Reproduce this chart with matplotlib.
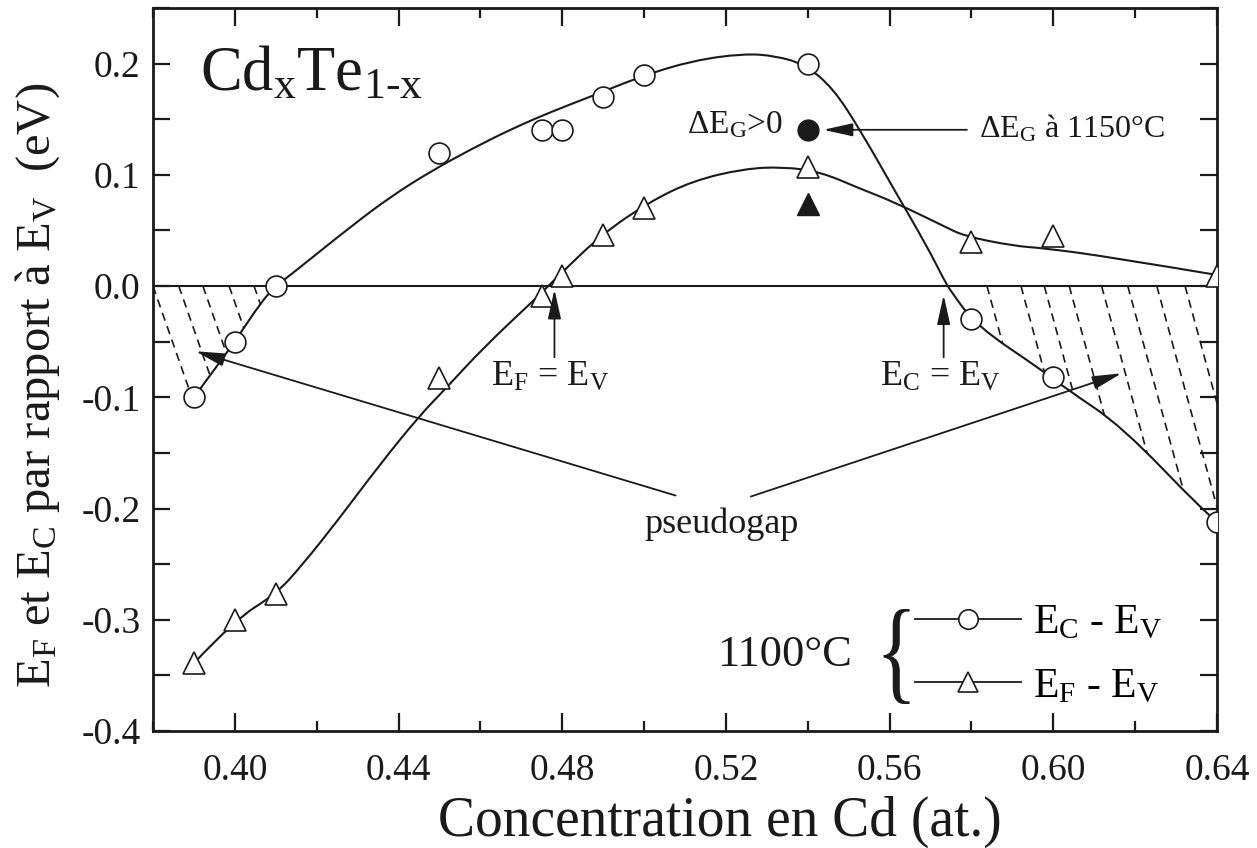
import numpy as np
import matplotlib
matplotlib.use('Agg')
import matplotlib.pyplot as plt
from matplotlib.ticker import MultipleLocator, FormatStrFormatter
from matplotlib.lines import Line2D
from matplotlib.patches import Polygon, PathPatch
from matplotlib.path import Path
from matplotlib.textpath import TextPath
from matplotlib.font_manager import FontProperties
from matplotlib.transforms import Affine2D, ScaledTranslation

plt.rcParams['font.family'] = ['Liberation Serif', 'DejaVu Serif']
plt.rcParams['mathtext.fontset'] = 'custom'
plt.rcParams['mathtext.rm'] = 'Liberation Serif'
plt.rcParams['mathtext.it'] = 'Liberation Serif:italic'
plt.rcParams['mathtext.bf'] = 'Liberation Serif:bold'
plt.rcParams['axes.unicode_minus'] = False

# measured points, 1100 C
conc = [0.39, 0.40, 0.41, 0.45, 0.475, 0.48, 0.49, 0.50, 0.54, 0.58, 0.60, 0.64]
ec_ev = [-0.100, -0.050, 0.000, 0.120, 0.140, 0.140, 0.170, 0.190, 0.200, -0.030, -0.082, -0.212]
ef_ev = [-0.339, -0.300, -0.277, -0.083, -0.009, 0.009, 0.046, 0.070, 0.107, 0.040, 0.045, 0.009]

# 1150 C point
conc_1150 = [0.54]
ec_1150 = [0.140]
ef_1150 = [0.074]

# hand drawn fit curves (traced)
fit_ec_x = [0.39, 0.395, 0.40, 0.4064, 0.41, 0.4145, 0.4285, 0.4383, 0.4481, 0.4579,
            0.4677, 0.4775, 0.4874, 0.4996, 0.5119, 0.5242, 0.5322, 0.5394, 0.5463,
            0.553, 0.561, 0.5691, 0.5732, 0.575, 0.5813, 0.597, 0.6034, 0.6167, 0.6363, 0.64]
fit_ec_y = [-0.100, -0.075, -0.050, -0.0144, 0.0, 0.0126, 0.054, 0.081, 0.1036, 0.1234,
            0.1414, 0.157, 0.171, 0.189, 0.2027, 0.209, 0.207, 0.199, 0.1775,
            0.139, 0.0874, 0.036, 0.0063, -0.005, -0.036, -0.075, -0.093, -0.126, -0.2009, -0.212]
fit_ef_x = [0.39, 0.40, 0.41, 0.4162, 0.4253, 0.4351, 0.445, 0.4513, 0.4611, 0.4734,
            0.48, 0.4898, 0.5013, 0.5119, 0.5242, 0.534, 0.5431, 0.5529, 0.561, 0.5732,
            0.5782, 0.5904, 0.598, 0.614, 0.64]
fit_ef_y = [-0.339, -0.300, -0.277, -0.252, -0.210, -0.162, -0.117, -0.093, -0.054, -0.0117,
            0.0126, 0.0468, 0.0757, 0.0946, 0.1054, 0.1072, 0.1027, 0.0874, 0.0757, 0.054,
            0.045, 0.036, 0.034, 0.026, 0.010]

hatch_left = [0.380, 0.3863, 0.3922, 0.3986, 0.4047]
hatch_right = [0.5838, 0.5921, 0.5978, 0.6039, 0.6118, 0.6182, 0.6253, 0.6322]

ink = '#1a1a1a'


def smooth_path(xs, ys):
    # quadratic bezier through the midpoints of the traced polyline
    pts = list(zip(xs, ys))
    verts = [pts[0]]
    codes = [Path.MOVETO]
    for i in range(1, len(pts) - 1):
        mid = ((pts[i][0] + pts[i + 1][0]) / 2, (pts[i][1] + pts[i + 1][1]) / 2)
        if i == len(pts) - 2:
            mid = pts[i + 1]
        verts += [pts[i], mid]
        codes += [Path.CURVE3, Path.CURVE3]
    return Path(verts, codes)


fig = plt.figure(figsize=(12.57, 8.48), dpi=100)
ax = fig.add_axes([153 / 1257, 1 - 731 / 848, 1064 / 1257, 723 / 848])

ax.axhline(0, color=ink, lw=1.5, zorder=1)
for fx, fy in [(fit_ec_x, fit_ec_y), (fit_ef_x, fit_ef_y)]:
    ax.add_patch(PathPatch(smooth_path(fx, fy), fill=False, edgecolor=ink, lw=1.5, zorder=2))

ax.plot(conc, ec_ev, 'o', ms=15, mfc='white', mec=ink, mew=1.2, zorder=3)
ax.plot(conc, ef_ev, '^', ms=16, mfc='white', mec=ink, mew=1.2, zorder=3)
ax.plot(conc_1150, ec_1150, 'o', ms=15, mfc=ink, mec=ink, zorder=3)
ax.plot(conc_1150, ef_1150, '^', ms=16, mfc=ink, mec=ink, zorder=3)

# pseudogap hatching (dashed lines clipped to the region between 0 and E_C)
left_curve = [(x, y) for x, y in zip(fit_ec_x, fit_ec_y) if x <= 0.41]
poly_left = [(0.38, 0.0), (0.41, 0.0)] + left_curve[::-1] + [(0.38, -0.06)]
right_curve = [(x, y) for x, y in zip(fit_ec_x, fit_ec_y) if x >= 0.575]
poly_right = [(0.575, 0.0), (0.64, 0.0), (0.64, -0.212)] + right_curve[::-1]

for starts, polypts, ratio in [(hatch_left, poly_left, 0.095), (hatch_right, poly_right, 0.074)]:
    clip = Polygon(polypts, closed=True, transform=ax.transData, fill=False, edgecolor='none')
    for x0 in starts:
        ln, = ax.plot([x0, x0 + ratio * 0.3], [0.0, -0.3], color=ink, lw=1.2,
                      dashes=(5, 3.5), zorder=1)
        ln.set_clip_path(clip)

arrow = dict(arrowstyle='-|>,head_length=0.9,head_width=0.2', color=ink, lw=1.3,
             shrinkA=0, shrinkB=0, mutation_scale=20)
ax.annotate('', xy=(0.5438, 0.1405), xytext=(0.5789, 0.1405), arrowprops=arrow)
ax.annotate('', xy=(0.4781, -0.003), xytext=(0.4781, -0.064), arrowprops=arrow)
ax.annotate('', xy=(0.5732, -0.008), xytext=(0.5732, -0.064), arrowprops=arrow)
ax.annotate('', xy=(0.3904, -0.0586), xytext=(0.5077, -0.1883), arrowprops=arrow)
ax.annotate('', xy=(0.6167, -0.0784), xytext=(0.5261, -0.1892), arrowprops=arrow)

ax.text(0.3914, 0.1757, r'$\mathrm{Cd_x Te_{1‐x}}$', fontsize=45, va='baseline', color=ink)
ax.text(0.534, 0.137, r'Δ$\mathrm{E_G}$>0', fontsize=24, ha='right', va='baseline', color=ink)
ax.text(0.5818, 0.134, r'Δ$\mathrm{E_G}$ à 1150°C', fontsize=23, va='baseline', color=ink)
ax.text(0.477, -0.09, r'$\mathrm{E_F}$ = $\mathrm{E_V}$', fontsize=26, ha='center',
        va='baseline', color=ink)
ax.text(0.5725, -0.09, r'$\mathrm{E_C}$ = $\mathrm{E_V}$', fontsize=26, ha='center',
        va='baseline', color=ink)
ax.text(0.519, -0.2216, 'pseudogap', fontsize=26, ha='center', va='baseline', color=ink)
ax.text(0.5178, -0.342, '1100°C', fontsize=32, va='baseline', color=ink)

# tall narrow brace
tp = TextPath((0, 0), '{', size=1, prop=FontProperties(family='Liberation Serif'))
bb = tp.get_extents()
tr = (Affine2D().translate(-(bb.x0 + bb.width / 2), -(bb.y0 + bb.height / 2))
      .scale(26 / bb.width, 95 / bb.height)
      + ScaledTranslation(0.5617, -0.333, ax.transData))
ax.add_patch(PathPatch(tp, transform=tr, color=ink, lw=0, clip_on=False))

handles = [Line2D([], [], color=ink, lw=1.3, marker='o', ms=14, mfc='white', mec=ink, mew=1.2),
           Line2D([], [], color=ink, lw=1.3, marker='^', ms=15, mfc='white', mec=ink, mew=1.2)]
labels = [r'$\mathrm{E_C}$ - $\mathrm{E_V}$', r'$\mathrm{E_F}$ - $\mathrm{E_V}$']
ax.legend(handles, labels, loc='center left', bbox_to_anchor=(0.5661, -0.3315),
          bbox_transform=ax.transData, frameon=False, fontsize=30, handlelength=2.55,
          handletextpad=0.3, labelspacing=0.6, borderpad=0, borderaxespad=0)

ax.set_xlim(0.38, 0.64)
ax.set_ylim(-0.4, 0.25)
ax.set_xticks([0.40, 0.44, 0.48, 0.52, 0.56, 0.60, 0.64])
ax.xaxis.set_minor_locator(MultipleLocator(0.02))
ax.xaxis.set_major_formatter(FormatStrFormatter('%.2f'))
ax.set_yticks([-0.4, -0.3, -0.2, -0.1, 0.0, 0.1, 0.2])
ax.yaxis.set_minor_locator(MultipleLocator(0.05))
ax.yaxis.set_major_formatter(FormatStrFormatter('%.1f'))
ax.tick_params(which='both', direction='in', top=True, right=True, width=1.6,
               colors=ink, labelsize=27)
ax.tick_params(axis='x', which='major', length=13, pad=16)
ax.tick_params(axis='x', which='minor', length=7)
ax.tick_params(axis='y', which='both', length=12, pad=9)
for s in ax.spines.values():
    s.set_linewidth(2)
    s.set_color(ink)

fig.text(720 / 1257, 1 - 836 / 848, 'Concentration en Cd (at.)', fontsize=40,
         ha='center', va='baseline', color=ink)
fig.text(38 / 1257, 1 - 385 / 848,
         r'$\mathrm{E_F}$ et $\mathrm{E_C}$ par rapport à $\mathrm{E_V}$  (eV)',
         fontsize=35, rotation=90, ha='center', va='center', color=ink)

fig.savefig('out.png', dpi=100)
